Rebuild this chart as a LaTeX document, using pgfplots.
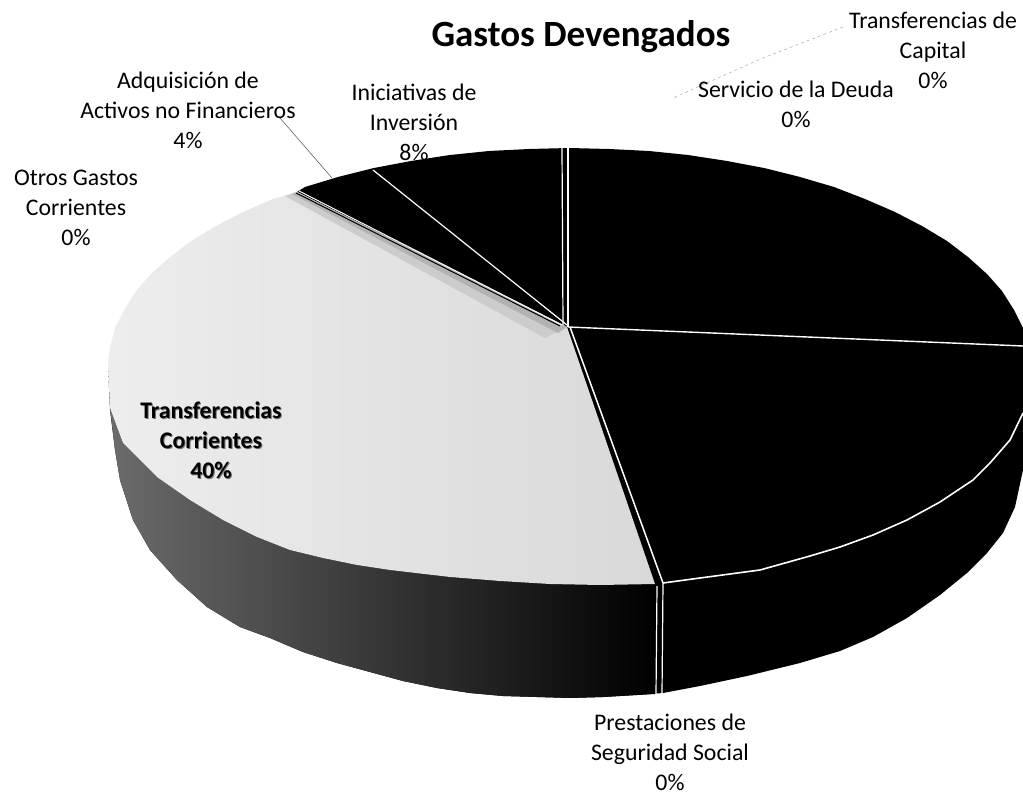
\documentclass[border=0pt]{standalone}
\usepackage{pgfplots}
\pgfplotsset{compat=1.18}
\usepackage{fontspec}
\setmainfont{Carlito}
\begin{document}
\begin{tikzpicture}[lab/.style={align=center,inner sep=0pt,font=\fontsize{23.8}{30}\selectfont},
  labb/.style={align=center,inner sep=0pt,font=\fontsize{23.8}{30}\selectfont\bfseries}]
\path[use as bounding box] (0,0) rectangle (1023pt,794pt);
\begin{axis}[scale only axis,width=1023pt,height=794pt,xmin=0,xmax=1023,ymin=0,ymax=794,y dir=reverse,hide axis]
% side wall, dark part
\addplot[fill=black,draw=none] coordinates {(108,366)(110,410)(115,450)(120,480)(133,520)(150,550)(177,580)(207,607)(240,627)(270,638)(303,652)(337,663)(370,672)(403,681)(437,688)(470,693)(503,696)(537,697)(570,698)(603,697)(637,695)(663,693)(700,686)(747,676)(800,663)(840,651)(873,637)(907,618)(940,595)(967,573)(987,553)(1003,533)(1015,507)(1023,470)(1023,330)(569,300)} -- cycle;
% side wall, grey part
\addplot[shade,left color=black!58,middle color=black,right color=black,draw=none] coordinates {(110,408)(115,450)(120,480)(133,520)(150,550)(177,580)(207,607)(240,627)(270,638)(303,652)(337,663)(370,672)(403,681)(437,688)(470,693)(503,696)(537,697)(570,698)(603,697)(637,695)(656,694)(656,584)(600,585)(550,584)(500,581)(450,577)(390,570)(357,565)(323,558)(290,550)(257,537)(223,520)(190,500)(157,477)(123,443)} -- cycle;
% top surface, dark slices
\addplot[fill=black,draw=none] coordinates {(297,192)(305,187)(338,177)(374,168)(411,161)(450,155)(489,151)(529,149)(569,148)(609,149)(649,151)(688,155)(727,161)(764,168)(800,177)(834,187)(865,199)(895,212)(922,226)(947,241)(968,257)(987,274)(1002,291)(1014,310)(1023,328)(1023,413)(1010,440)(990,463)(973,480)(940,502)(907,520)(873,535)(840,547)(810,556)(760,570)(700,578)(663,583)(656,585)(567,327)} -- cycle;
% top surface, grey slice
\addplot[shade,left color=black!7,right color=black!15,draw=none] coordinates {(567,327)(297,192)(273,199)(243,212)(216,226)(191,241)(170,257)(151,274)(136,291)(124,310)(115,328)(110,347)(108,366)(110,408)(123,443)(157,477)(190,500)(223,520)(257,537)(290,550)(323,558)(357,565)(390,570)(450,577)(500,581)(550,584)(600,585)(655,584)} -- cycle;
\addplot[fill=black!20,draw=none] coordinates {(567,327)(297,192)(285,196)(545,338)} -- cycle;
\addplot[fill=black!30,draw=none] coordinates {(567,327)(297,192)(292,194)(558,333)} -- cycle;
% white separators
\addplot[white,line width=1.4pt] coordinates {(568,327)(1023,346)};
\addplot[white,line width=1.5pt] coordinates {(570,327)(663,583)};
\addplot[white,line width=1.6pt] coordinates {(663,583)(700,578)(760,570)(810,556)(840,547)(873,535)(907,520)(940,502)(973,480)(990,463)(1010,440)(1023,413)};
\addplot[white,line width=1.2pt] coordinates {(567,325)(373,170)};
\addplot[white,line width=1pt] coordinates {(562,325)(299,191)};
\addplot[black,line width=1pt] coordinates {(560,326)(296,193)};
\addplot[white,line width=1.2pt] coordinates {(563,325)(562,148)};
\addplot[white,line width=1.8pt] coordinates {(568,327)(568,148)};
\addplot[white,line width=1.2pt] coordinates {(657,586)(656,695)};
\addplot[white,line width=1.2pt] coordinates {(663,583)(662,694)};
% leaders
\addplot[black!70,line width=0.5pt] coordinates {(280,118)(332,178)};
\addplot[gray!70,line width=0.5pt,dashed] coordinates {(843,27)(763,58)(673,98)};
% labels
\node[align=center,inner sep=0pt,font=\fontsize{37}{40}\selectfont\bfseries] at (axis cs:581,37) {Gastos Devengados};
\node[lab] at (axis cs:933,50) {Transferencias de\\Capital\\0\%};
\node[lab] at (axis cs:796,104) {Servicio de la Deuda\\0\%};
\node[lab] at (axis cs:188,110) {Adquisición de\\Activos no Financieros\\4\%};
\node[lab] at (axis cs:414,122) {Iniciativas de\\Inversión\\8\%};
\node[lab] at (axis cs:76,208) {Otros Gastos\\Corrientes\\0\%};
\node[lab] at (axis cs:670,752) {Prestaciones de\\Seguridad Social\\0\%};
\node[labb,text=black!55] at (axis cs:212,441) {Transferencias\\Corrientes\\40\%};
\node[labb] at (axis cs:211,440) {Transferencias\\Corrientes\\40\%};
\end{axis}
\end{tikzpicture}
\end{document}
